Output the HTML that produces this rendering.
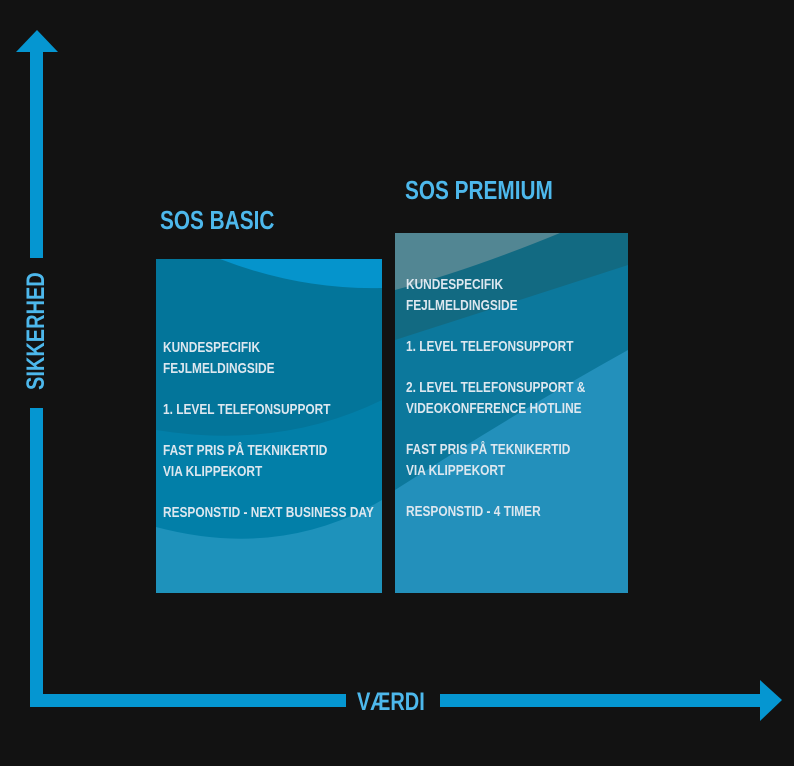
<!DOCTYPE html>
<html><head><meta charset="utf-8"><style>
html,body{margin:0;padding:0;background:#121212;}
svg{display:block}
text{font-family:"Liberation Sans Narrow","Liberation Sans",sans-serif;font-weight:bold;}
</style></head><body>
<svg width="794" height="766" viewBox="0 0 794 766" xmlns="http://www.w3.org/2000/svg">
<defs>
<clipPath id="cb"><rect x="156" y="259" width="226" height="334"/></clipPath>
<clipPath id="cp"><rect x="395" y="233" width="233" height="360"/></clipPath>
</defs>
<rect width="794" height="766" fill="#121212"/>
<rect x="30" y="44" width="13" height="214" fill="#0596d1"/>
<rect x="30" y="408" width="13" height="299" fill="#0596d1"/>
<polygon points="16,52 37,30 58,52" fill="#0596d1"/>
<rect x="30" y="694" width="316" height="13" fill="#0596d1"/>
<rect x="440" y="694" width="322" height="13" fill="#0596d1"/>
<polygon points="760,680 782,700 760,721" fill="#0596d1"/>
<text transform="translate(44,390) rotate(-90) scale(0.8,1)" font-size="25" fill="#4db8ec">SIKKERHED</text>
<text transform="translate(357,710) scale(0.8,1)" font-size="25" fill="#4db8ec">VÆRDI</text>
<text transform="translate(160,229) scale(0.8,1)" font-size="26" fill="#4db8ec">SOS BASIC</text>
<text transform="translate(405,199) scale(0.8,1)" font-size="26" fill="#4db8ec">SOS PREMIUM</text>
<g clip-path="url(#cb)">
<rect x="156" y="259" width="226" height="334" fill="#03759a"/>
<path d="M220,259 Q300,290 382,288 L382,259 Z" fill="#0594cc"/>
<path d="M156,430 Q280,450 382,400 L382,593 L156,593 Z" fill="#027fa8"/>
<path d="M156,527 Q280,560 382,500 L382,593 L156,593 Z" fill="#1e92bb"/>
</g>
<g clip-path="url(#cp)">
<rect x="395" y="233" width="233" height="360" fill="#126a82"/>
<path d="M395,233 L560,233 Q470,270 395,290 Z" fill="#528693"/>
<path d="M395,340 Q520,300 628,265 L628,593 L395,593 Z" fill="#0c789c"/>
<path d="M395,490 Q520,410 628,350 L628,593 L395,593 Z" fill="#2390bb"/>
</g>
<g fill="#dde7ef" font-size="14.5">
<text transform="translate(163,352) scale(0.82,1)">KUNDESPECIFIK</text>
<text transform="translate(163,373) scale(0.82,1)">FEJLMELDINGSIDE</text>
<text transform="translate(163,414) scale(0.82,1)">1. LEVEL TELEFONSUPPORT</text>
<text transform="translate(163,455) scale(0.82,1)">FAST PRIS PÅ TEKNIKERTID</text>
<text transform="translate(163,476) scale(0.82,1)">VIA KLIPPEKORT</text>
<text transform="translate(163,517) scale(0.82,1)">RESPONSTID - NEXT BUSINESS DAY</text>
<text transform="translate(406,289) scale(0.82,1)">KUNDESPECIFIK</text>
<text transform="translate(406,310) scale(0.82,1)">FEJLMELDINGSIDE</text>
<text transform="translate(406,351) scale(0.82,1)">1. LEVEL TELEFONSUPPORT</text>
<text transform="translate(406,392) scale(0.82,1)">2. LEVEL TELEFONSUPPORT &amp;</text>
<text transform="translate(406,413) scale(0.82,1)">VIDEOKONFERENCE HOTLINE</text>
<text transform="translate(406,454) scale(0.82,1)">FAST PRIS PÅ TEKNIKERTID</text>
<text transform="translate(406,475) scale(0.82,1)">VIA KLIPPEKORT</text>
<text transform="translate(406,516) scale(0.82,1)">RESPONSTID - 4 TIMER</text>
</g>
</svg>
</body></html>
